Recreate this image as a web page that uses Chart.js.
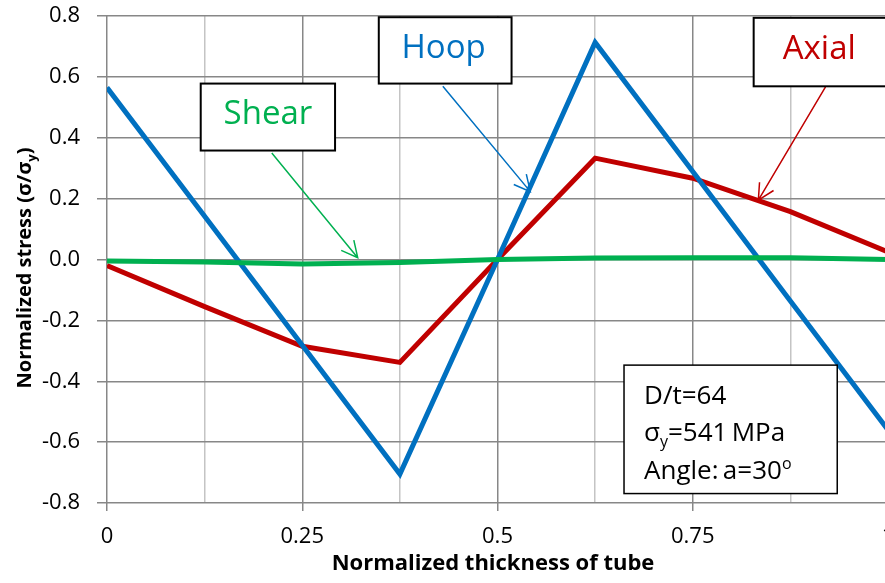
<!DOCTYPE html>
<html>
<head>
<meta charset="utf-8">
<script src="https://cdn.jsdelivr.net/npm/chart.js@4.4.1/dist/chart.umd.min.js"></script>
<style>
  html, body { margin: 0; padding: 0; background: #fff; overflow: hidden; }
  #wrap { position: relative; width: 885px; height: 583px; overflow: hidden; }
  #chart { position: absolute; left: 0; top: 0; }
</style>
</head>
<body>
<div id="wrap"><canvas id="chart" width="900" height="583"></canvas></div>
<script>
// values
const thickness = [0, 0.125, 0.25, 0.375, 0.5, 0.625, 0.75, 0.875, 1];
const axial = [-0.02, -0.155, -0.285, -0.338, 0.0, 0.333, 0.267, 0.157, 0.025];
const hoop  = [0.565, 0.142, -0.282, -0.705, 0.0, 0.713, 0.289, -0.136, -0.56];
const shear = [-0.005, -0.008, -0.015, -0.01, 0.0, 0.005, 0.006, 0.006, 0.0];
const xTickLabels = [0, 0.25, 0.5, 0.75, 1];

const DARK = '#878787';
const LIGHT = '#c4c4c4';
const FONT = "'Open Sans', 'Noto Sans', sans-serif";

function pts(arr) {
  return thickness.map((x, i) => ({ x: x, y: arr[i] }));
}
function isMajor(v) {
  return xTickLabels.some(t => Math.abs(t - v) < 1e-6);
}

// callout boxes: box = [x0, y0, x1, y1] in data units, arrow from (ax,ay) to (bx,by)
const notes = [
  { text: 'Shear', color: '#00B050', box: [0.120, 0.578, 0.292, 0.358], tx: 0.206, ty: 0.475, arrow: [0.211, 0.350, 0.321, 0.006] },
  { text: 'Hoop',  color: '#0070C0', box: [0.348, 0.796, 0.518, 0.578], tx: 0.431, ty: 0.693, arrow: [0.430, 0.569, 0.542, 0.223] },
  { text: 'Axial', color: '#C00000', box: [0.828, 0.794, 1.030, 0.569], tx: 0.912, ty: 0.690, arrow: [0.920, 0.567, 0.834, 0.195] }
];
const infoBox = [0.662, -0.347, 0.935, -0.769];

function arrow(ctx, x1, y1, x2, y2, color) {
  const a = Math.atan2(y2 - y1, x2 - x1);
  const len = 18, spread = 0.47;
  ctx.save();
  ctx.strokeStyle = color;
  ctx.lineWidth = 1.5;
  ctx.beginPath();
  ctx.moveTo(x1, y1);
  ctx.lineTo(x2, y2);
  ctx.moveTo(x2 + len * Math.cos(a + Math.PI - spread), y2 + len * Math.sin(a + Math.PI - spread));
  ctx.lineTo(x2, y2);
  ctx.lineTo(x2 + len * Math.cos(a + Math.PI + spread), y2 + len * Math.sin(a + Math.PI + spread));
  ctx.stroke();
  ctx.restore();
}

// draw a run of [text, size, dy] pieces starting at x
function runText(ctx, pieces, x, y, weight) {
  let cx = x;
  pieces.forEach(p => {
    ctx.font = weight + ' ' + p[1] + 'px ' + FONT;
    ctx.fillText(p[0], cx, y + p[2]);
    cx += ctx.measureText(p[0]).width;
  });
  return cx - x;
}
function runWidth(ctx, pieces, weight) {
  let w = 0;
  pieces.forEach(p => {
    ctx.font = weight + ' ' + p[1] + 'px ' + FONT;
    w += ctx.measureText(p[0]).width;
  });
  return w;
}

const decorations = {
  id: 'decorations',
  afterDraw(chart) {
    const ctx = chart.ctx;
    const xs = chart.scales.x, ys = chart.scales.y;
    const px = v => xs.getPixelForValue(v);
    const py = v => ys.getPixelForValue(v);

    ctx.save();
    ctx.fillStyle = '#000';
    ctx.textBaseline = 'alphabetic';
    ctx.textAlign = 'left';

    // x axis title
    ctx.font = 'bold 22px ' + FONT;
    const xt = 'Normalized thickness of tube';
    ctx.fillText(xt, 493 - ctx.measureText(xt).width / 2, 570);

    // y axis title, rotated
    const yPieces = [['Normalized stress (\u03c3/\u03c3', 20, 0], ['y', 13, 5], [')', 20, 0]];
    const yw = runWidth(ctx, yPieces, 'bold');
    ctx.save();
    ctx.translate(31, 268);
    ctx.rotate(-Math.PI / 2);
    runText(ctx, yPieces, -yw / 2, 0, 'bold');
    ctx.restore();

    // callouts
    notes.forEach(n => {
      const bx0 = px(n.box[0]), by0 = py(n.box[1]), bx1 = px(n.box[2]), by1 = py(n.box[3]);
      arrow(ctx, px(n.arrow[0]), py(n.arrow[1]), px(n.arrow[2]), py(n.arrow[3]), n.color);
      ctx.fillStyle = '#fff';
      ctx.fillRect(bx0, by0, bx1 - bx0, by1 - by0);
      ctx.strokeStyle = '#000';
      ctx.lineWidth = 2;
      ctx.strokeRect(bx0, by0, bx1 - bx0, by1 - by0);
      ctx.fillStyle = n.color;
      ctx.font = '33px ' + FONT;
      ctx.textAlign = 'center';
      ctx.textBaseline = 'middle';
      ctx.fillText(n.text, px(n.tx), py(n.ty));
      ctx.textAlign = 'left';
      ctx.textBaseline = 'alphabetic';
    });

    // info box
    const ix0 = px(infoBox[0]), iy0 = py(infoBox[1]), ix1 = px(infoBox[2]), iy1 = py(infoBox[3]);
    ctx.fillStyle = '#fff';
    ctx.fillRect(ix0, iy0, ix1 - ix0, iy1 - iy0);
    ctx.strokeStyle = '#000';
    ctx.lineWidth = 1.5;
    ctx.strokeRect(ix0, iy0, ix1 - ix0, iy1 - iy0);
    ctx.fillStyle = '#000';
    const lx = ix0 + 20;
    runText(ctx, [['D/t=64', 26, 0]], lx, iy0 + 38.5, 'normal');
    runText(ctx, [['\u03c3', 26, 0], ['y', 16, 6], ['=541\u2009MPa', 26, 0]], lx, iy0 + 76, 'normal');
    runText(ctx, [['Angle:\u2009a=30', 26, 0], ['o', 16, -10]], lx, iy0 + 114, 'normal');

    ctx.restore();
  }
};

const ctx = document.getElementById('chart').getContext('2d');
new Chart(ctx, {
  type: 'line',
  data: {
    datasets: [
      { label: 'Shear', data: pts(shear), borderColor: '#00B050', borderWidth: 5, order: 1 },
      { label: 'Hoop',  data: pts(hoop),  borderColor: '#0070C0', borderWidth: 5, order: 2 },
      { label: 'Axial', data: pts(axial), borderColor: '#C00000', borderWidth: 5, order: 3 }
    ]
  },
  options: {
    responsive: false,
    animation: false,
    events: [],
    elements: {
      point: { radius: 0 },
      line: { tension: 0, borderJoinStyle: 'miter', fill: false }
    },
    layout: { padding: { left: 0, top: 16, right: 12, bottom: 0 } },
    plugins: { legend: { display: false }, tooltip: { enabled: false } },
    scales: {
      x: {
        type: 'linear',
        min: 0,
        max: 1,
        afterFit: s => {
          s.height = 80;
          s.paddingLeft = 0;
          s.paddingRight = 0;
        },
        afterBuildTicks: s => {
          s.ticks = thickness.map(v => ({ value: v }));
        },
        ticks: {
          autoSkip: false,
          maxRotation: 0,
          padding: 13,
          color: '#000',
          font: { family: FONT, size: 22 },
          callback: v => (isMajor(v) ? String(v) : '')
        },
        grid: {
          color: c => (isMajor(c.tick.value) ? DARK : LIGHT),
          tickColor: c => (isMajor(c.tick.value) ? DARK : 'rgba(0,0,0,0)'),
          lineWidth: 1.5,
          tickLength: 8
        },
        border: { display: false }
      },
      y: {
        min: -0.8,
        max: 0.8,
        afterFit: s => {
          s.width = 107;
          s.paddingTop = 0;
          s.paddingBottom = 0;
        },
        ticks: {
          stepSize: 0.2,
          padding: 17,
          color: '#000',
          font: { family: FONT, size: 22 },
          callback: v => (Math.abs(v) < 1e-9 ? '0.0' : v.toFixed(1))
        },
        grid: { color: DARK, lineWidth: 1.5, tickLength: 10 },
        border: { display: false }
      }
    }
  },
  plugins: [decorations]
});
</script>
</body>
</html>
